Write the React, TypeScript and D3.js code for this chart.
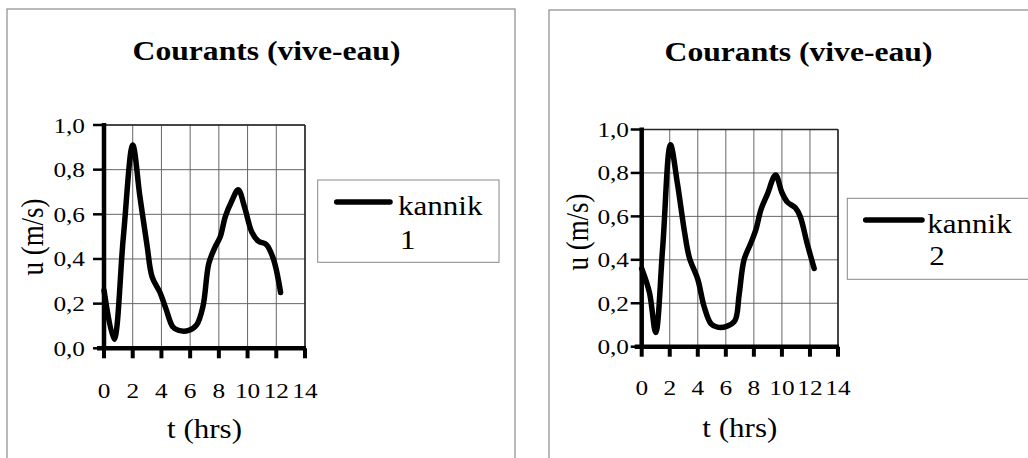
import React from 'react';
import * as d3 from 'd3';

// ---- data ----
const TIME_1 = [0, 0.7, 1.35, 2.0, 2.5, 3.0, 3.35, 3.9, 4.3, 4.8, 5.2, 5.9, 6.45, 6.9, 7.3, 7.75, 8.1, 8.45, 8.9, 9.35, 9.8, 10.3, 10.75, 11.3, 11.8, 12.3];
const SPEED_1 = [0.26, 0.04, 0.5, 0.91, 0.68, 0.46, 0.32, 0.25, 0.18, 0.095, 0.08, 0.08, 0.105, 0.19, 0.38, 0.455, 0.5, 0.59, 0.66, 0.71, 0.63, 0.52, 0.48, 0.465, 0.4, 0.25];
const TIME_2 = [0, 0.55, 1.0, 1.5, 2.05, 2.55, 3.05, 3.4, 4.0, 4.45, 4.95, 5.4, 6.1, 6.65, 6.95, 7.3, 7.8, 8.15, 8.5, 8.95, 9.55, 10.0, 10.4, 10.95, 11.3, 11.8, 12.3];
const SPEED_2 = [0.36, 0.25, 0.065, 0.46, 0.93, 0.75, 0.53, 0.41, 0.31, 0.185, 0.105, 0.09, 0.095, 0.12, 0.24, 0.4, 0.48, 0.54, 0.63, 0.7, 0.79, 0.71, 0.665, 0.64, 0.6, 0.475, 0.36];
const X_TICKS = [0, 2, 4, 6, 8, 10, 12, 14];
const Y_TICKS = [0, 0.2, 0.4, 0.6, 0.8, 1.0];
const TITLE = 'Courants (vive-eau)';
const X_LABEL = 't (hrs)';
const Y_LABEL = 'u (m/s)';
const SERIES_NAME = 'kannik';
const SERIES_IDS = ['1', '2'];

const FONT = "'Liberation Serif','Times New Roman',serif";
const SX = 1.15;

function Txt(props: any) {
  const { x, y, size, anchor = 'start', weight = 'normal', rotate, children } = props;
  const t = `translate(${x},${y}) scale(${SX},1)` + (rotate ? ` rotate(${rotate})` : '');
  return (
    <text transform={t} fontFamily={FONT} fontSize={size} textAnchor={anchor} fontWeight={weight} fill="#000">
      {children}
    </text>
  );
}

const fmt = (v: number) => d3.format('.1f')(v).replace('.', ',');

function Panel({ cfg, times, speeds, id }: any) {
  const x = d3.scaleLinear().domain([0, 14]).range([cfg.l, cfg.r]);
  const y = d3.scaleLinear().domain([0, 1]).range([cfg.b, cfg.t]);
  const pts = times.map((t: number, i: number) => [t, speeds[i]] as [number, number]);
  const line = d3.line<[number, number]>().x(d => x(d[0])).y(d => y(d[1])).curve(d3.curveCatmullRom.alpha(0.5));
  const lg = cfg.legend;
  return (
    <g>
      {/* outer frame */}
      <rect x={cfg.fx} y={cfg.fy} width={cfg.fw} height={500} fill="none" stroke="#8a8a8a" strokeWidth={1.2} />
      <Txt x={cfg.titleX} y={cfg.titleY} size={27.5} anchor="middle" weight="bold">{TITLE}</Txt>
      {/* grid */}
      {X_TICKS.map(t => (
        <line key={'gx' + t} x1={x(t)} x2={x(t)} y1={cfg.t} y2={cfg.b} stroke="#666" strokeWidth={1} />
      ))}
      {Y_TICKS.map(v => (
        <line key={'gy' + v} x1={cfg.l} x2={cfg.r} y1={y(v)} y2={y(v)} stroke="#666" strokeWidth={1} />
      ))}
      <line x1={cfg.l} x2={cfg.r} y1={cfg.t} y2={cfg.t} stroke="#222" strokeWidth={1.5} />
      <line x1={cfg.r} x2={cfg.r} y1={cfg.t} y2={cfg.b} stroke="#222" strokeWidth={1.5} />
      {/* axes */}
      <line x1={cfg.l} x2={cfg.l} y1={cfg.t - 2} y2={cfg.b + 2} stroke="#000" strokeWidth={4.5} />
      <line x1={cfg.l - 7} x2={cfg.r + 1} y1={cfg.b} y2={cfg.b} stroke="#000" strokeWidth={4.5} />
      {Y_TICKS.map(v => (
        <line key={'ty' + v} x1={cfg.l - 11} x2={cfg.l} y1={y(v)} y2={y(v)} stroke="#000" strokeWidth={2.5} />
      ))}
      {X_TICKS.map(t => (
        <line key={'tx' + t} x1={x(t)} x2={x(t)} y1={cfg.b} y2={cfg.b + 10} stroke="#000" strokeWidth={4} />
      ))}
      {Y_TICKS.map(v => (
        <Txt key={'ly' + v} x={cfg.yTickRight} y={y(v) + 7.5} size={22} anchor="end">{fmt(v)}</Txt>
      ))}
      {X_TICKS.map(t => (
        <Txt key={'lx' + t} x={x(t)} y={cfg.xTickY} size={22} anchor="middle">{String(t)}</Txt>
      ))}
      <Txt x={(cfg.l + cfg.r) / 2} y={cfg.xLabelY} size={27} anchor="middle">{X_LABEL}</Txt>
      <Txt x={cfg.yLabelX} y={cfg.yLabelY} size={27} anchor="middle" rotate={-90}>{Y_LABEL}</Txt>
      {/* series */}
      <path d={line(pts) || ''} fill="none" stroke="#000" strokeWidth={5.5} strokeLinejoin="round" strokeLinecap="round" />
      {/* legend */}
      <rect x={lg.x} y={lg.y} width={lg.w} height={lg.h} fill="#fff" stroke="#888" strokeWidth={1} />
      <line x1={lg.lx1} x2={lg.lx2} y1={lg.ly} y2={lg.ly} stroke="#000" strokeWidth={5.5} strokeLinecap="round" />
      <Txt x={lg.tx} y={lg.t1} size={27}>{SERIES_NAME}</Txt>
      <Txt x={lg.tx + 2} y={lg.t2} size={27}>{id}</Txt>
    </g>
  );
}

const CFG_1 = {
  fx: 7, fy: 9, fw: 508,
  l: 104, r: 305, t: 125, b: 348.3,
  titleX: 266.5, titleY: 60,
  yTickRight: 85, xTickY: 398, xLabelY: 438,
  yLabelX: 43, yLabelY: 237,
  legend: { x: 317.7, y: 180, w: 181.3, h: 82.3, lx1: 336.7, lx2: 390, ly: 202, tx: 398, t1: 215, t2: 249 },
};
const CFG_2 = {
  fx: 549, fy: 10, fw: 520,
  l: 641.7, r: 838, t: 129.5, b: 346.7,
  titleX: 798.5, titleY: 61,
  yTickRight: 629, xTickY: 395, xLabelY: 437,
  yLabelX: 588, yLabelY: 232,
  legend: { x: 847.3, y: 198.3, w: 200, h: 81, lx1: 865.7, lx2: 922, ly: 220, tx: 927.3, t1: 233, t2: 265 },
};

export default function App() {
  return (
    <svg width={1028} height={458} style={{ position: 'absolute', left: 0, top: 0, background: '#fff' }}>
      <rect x={0} y={0} width={1028} height={458} fill="#fff" />
      <Panel cfg={CFG_1} times={TIME_1} speeds={SPEED_1} id={SERIES_IDS[0]} />
      <Panel cfg={CFG_2} times={TIME_2} speeds={SPEED_2} id={SERIES_IDS[1]} />
    </svg>
  );
}
